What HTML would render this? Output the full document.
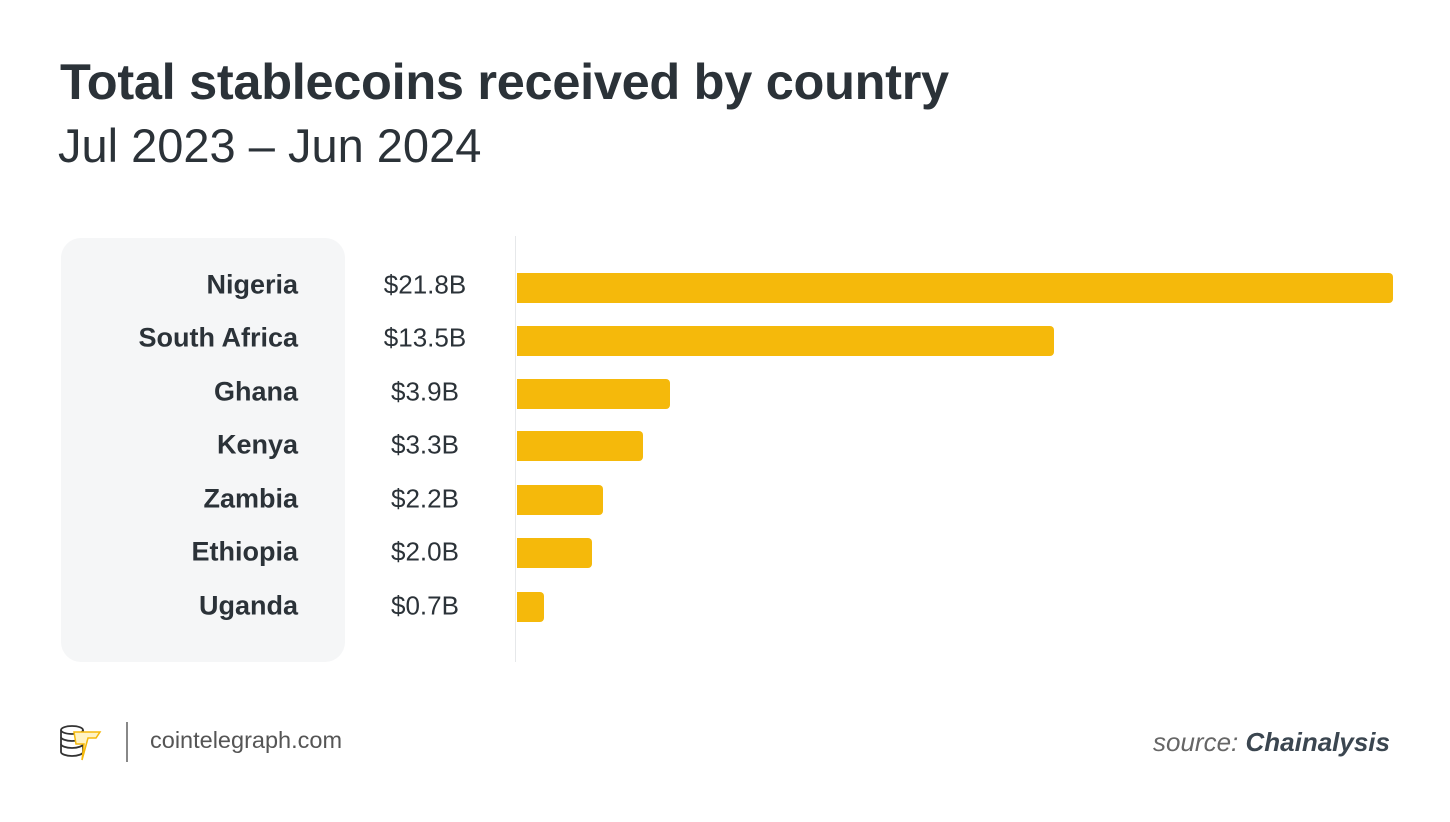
<!DOCTYPE html>
<html><head><meta charset="utf-8"><style>
body{margin:0;width:1450px;height:822px;background:#fff;font-family:"Liberation Sans",sans-serif;position:relative;overflow:hidden;color:#2b3238}
.a{position:absolute}
.t{left:60px;top:52px;font-size:50.5px;font-weight:bold;letter-spacing:-0.3px}
.s{left:58px;top:118px;font-size:47px;color:#2b3238}
.panel{left:61px;top:238px;width:284px;height:424px;background:#f5f6f7;border-radius:20px}
.lab{right:1152px;font-size:27px;font-weight:bold;text-align:right;white-space:nowrap;transform:translateY(-50%)}
.val{left:320px;width:210px;text-align:center;font-size:26px;transform:translateY(-50%)}
.bar{left:517px;height:30px;background:#f5b90b;border-radius:0 4px 4px 0;transform:translateY(-50%)}
</style></head><body>
<div class="a t">Total stablecoins received by country</div>
<div class="a s">Jul 2023 – Jun 2024</div>
<div class="a panel"></div>
<div class="a" style="left:515px;top:236px;width:1px;height:426px;background:#e6e8ea"></div>

<div class="a lab" style="top:285px">Nigeria</div><div class="a val" style="top:285px">$21.8B</div><div class="a bar" style="top:288px;width:876px"></div>
<div class="a lab" style="top:338px">South Africa</div><div class="a val" style="top:338px">$13.5B</div><div class="a bar" style="top:341px;width:537px"></div>
<div class="a lab" style="top:392px">Ghana</div><div class="a val" style="top:392px;left:325px;width:200px">$3.9B</div><div class="a bar" style="top:394px;width:153px"></div>
<div class="a lab" style="top:445px">Kenya</div><div class="a val" style="top:445px">$3.3B</div><div class="a bar" style="top:446px;width:126px"></div>
<div class="a lab" style="top:499px">Zambia</div><div class="a val" style="top:499px">$2.2B</div><div class="a bar" style="top:500px;width:86px"></div>
<div class="a lab" style="top:552px">Ethiopia</div><div class="a val" style="top:552px">$2.0B</div><div class="a bar" style="top:553px;width:75px"></div>
<div class="a lab" style="top:606px">Uganda</div><div class="a val" style="top:606px">$0.7B</div><div class="a bar" style="top:607px;width:27px"></div>

<svg class="a" style="left:58px;top:722px" width="46" height="40" viewBox="0 0 46 40">
<g fill="none" stroke="#333" stroke-width="1.8">
<ellipse cx="14" cy="8" rx="11" ry="4"/><path d="M3 8v22c0 2 5 4 11 4s11-2 11-4V8"/><path d="M3 15c0 2 5 4 11 4s11-2 11-4M3 22c0 2 5 4 11 4s11-2 11-4"/></g>
<path d="M16 10h26l-4 6h-8l-6 22 2-16h-8z" fill="#fff3c4" stroke="#f5b90b" stroke-width="1.5"/>
</svg>
<div class="a" style="left:126px;top:722px;width:2px;height:40px;background:#888"></div>
<div class="a" style="left:150px;top:727px;font-size:23.5px;color:#555">cointelegraph.com</div>
<div class="a" style="right:60px;top:727px;font-size:26px;color:#666"><i>source: </i><b><i style="color:#3b4650">Chainalysis</i></b></div>
</body></html>
